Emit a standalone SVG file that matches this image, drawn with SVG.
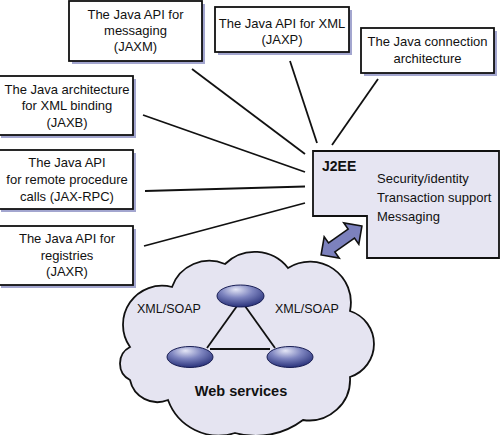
<svg xmlns="http://www.w3.org/2000/svg" width="500" height="435" viewBox="0 0 500 435">
<defs>
<radialGradient id="ell" cx="0.45" cy="0.3" r="0.75" fx="0.4" fy="0.2">
<stop offset="0" stop-color="#e4e6f6"/>
<stop offset="0.45" stop-color="#7d84bf"/>
<stop offset="1" stop-color="#1f2872"/>
</radialGradient>
<style>
.box{fill:#fff;stroke:#111;stroke-width:1.8}
.sh{fill:#a3a6cf}
.t{font-family:"Liberation Sans",Arial,sans-serif;font-size:13px;fill:#111}
.c{text-anchor:middle}
.b{font-weight:bold}
.ln{stroke:#111;stroke-width:1.8;fill:none}
.node{fill:url(#ell);stroke:#1a1f55;stroke-width:1}
</style>
</defs>
<rect width="500" height="435" fill="#fff"/>

<g id="connectors">
<line class="ln" x1="192" y1="69" x2="305" y2="154"/>
<line class="ln" x1="290" y1="61" x2="317" y2="143"/>
<line class="ln" x1="378" y1="79" x2="332" y2="145"/>
<line class="ln" x1="143" y1="115" x2="305" y2="172"/>
<line class="ln" x1="145" y1="191" x2="305" y2="186.5"/>
<line class="ln" x1="144" y1="246" x2="305" y2="203"/>
</g>

<g id="jaxm">
<rect class="sh" x="72" y="4" width="133" height="60"/>
<rect class="box" x="69" y="1" width="133" height="60"/>
<text class="t c" x="135.5" y="18.5">The Java API for</text>
<text class="t c" x="135.5" y="34.5">messaging</text>
<text class="t c" x="135.5" y="50.5">(JAXM)</text>
</g>

<g id="jaxp">
<rect class="sh" x="218" y="10" width="134" height="45"/>
<rect class="box" x="215" y="7" width="134" height="45"/>
<text class="t c" x="282" y="27.5">The Java API for XML</text>
<text class="t c" x="282" y="43.5">(JAXP)</text>
</g>

<g id="connector-arch">
<rect class="sh" x="364" y="31" width="133" height="45"/>
<rect class="box" x="361" y="28" width="133" height="45"/>
<text class="t c" x="427.5" y="46">The Java connection</text>
<text class="t c" x="427.5" y="62.5">architecture</text>
</g>

<g id="jaxb">
<rect class="sh" x="1" y="79" width="135" height="59"/>
<rect class="box" x="-2" y="76" width="135" height="59"/>
<text class="t c" x="67" y="93.5">The Java architecture</text>
<text class="t c" x="67" y="110">for XML binding</text>
<text class="t c" x="67" y="126.5">(JAXB)</text>
</g>

<g id="jaxrpc">
<rect class="sh" x="1" y="153" width="135" height="59"/>
<rect class="box" x="-2" y="150" width="135" height="59"/>
<text class="t c" x="67" y="167.3">The Java API</text>
<text class="t c" x="67" y="184">for remote procedure</text>
<text class="t c" x="67" y="200.5">calls (JAX-RPC)</text>
</g>

<g id="jaxr">
<rect class="sh" x="1" y="229" width="135" height="59"/>
<rect class="box" x="-2" y="226" width="135" height="59"/>
<text class="t c" x="67" y="243">The Java API for</text>
<text class="t c" x="67" y="259.5">registries</text>
<text class="t c" x="67" y="276">(JAXR)</text>
</g>

<g id="j2ee">
<polygon points="313,151 499,151 499,258 367,258 367,216 313,216" fill="#e6e5f2" stroke="#111" stroke-width="1.8"/>
<text class="t b" x="322" y="171" style="font-size:14px">J2EE</text>
<text class="t" x="377" y="183.3">Security/identity</text>
<text class="t" x="377" y="202.3">Transaction support</text>
<text class="t" x="377" y="221.3">Messaging</text>
</g>

<g id="link-arrow">
<polygon transform="translate(341.5,240.5) rotate(-35.3)" points="25,0 12,-13 12,-5.5 -12,-5.5 -12,-13 -25,0 -12,13 -12,5.5 12,5.5 12,13" fill="#7c81bd" stroke="#111" stroke-width="1.6" stroke-linejoin="miter"/>
</g>

<g id="web-services">
<path d="M172,287 A39.6,39.6 0 0 1 225,264 A42.4,42.4 0 0 1 288,268 A40.9,40.9 0 0 1 350,311 A34.7,34.7 0 0 1 350,377 A41,41 0 0 1 303,420 A78,78 0 0 1 235,433 A54,54 0 0 1 168,400 A28,28 0 0 1 130,380 A18.6,18.6 0 0 1 130,347 A39,39 0 0 1 172,287 Z" fill="#e5e4f1" stroke="#111" stroke-width="1.8" stroke-linejoin="miter"/>
<line class="ln" x1="237" y1="306" x2="207" y2="348"/>
<line class="ln" x1="245" y1="306" x2="275" y2="348"/>
<line class="ln" x1="210" y1="349" x2="270" y2="349"/>
<ellipse class="node" cx="240.5" cy="296" rx="23.5" ry="11"/>
<ellipse class="node" cx="190" cy="357" rx="23" ry="10.5"/>
<ellipse class="node" cx="290" cy="357" rx="23" ry="10.5"/>
<text class="t" x="137" y="313" style="font-size:12.5px">XML/SOAP</text>
<text class="t" x="275" y="313" style="font-size:12.5px">XML/SOAP</text>
<text class="t b c" x="241" y="396" style="font-size:14.5px">Web services</text>
</g>
</svg>
